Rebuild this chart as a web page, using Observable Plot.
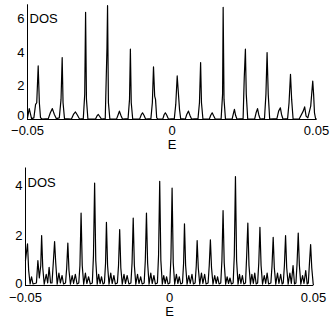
<!DOCTYPE html>
<html><head><meta charset="utf-8">
<script src="https://cdn.jsdelivr.net/npm/d3@7"></script>
<script src="https://cdn.jsdelivr.net/npm/@observablehq/plot@0.6"></script>
<style>
body{margin:0;background:#fff;}
#c{position:relative;width:332px;height:322px;overflow:hidden;}
#c svg{display:block;}
</style></head><body><div id="c"></div>
<script>
const xDomain = [-0.05, 0.05];
const xTicks = [-0.05, 0, 0.05];
const xTickLabels = ["\u22120.05", "0", "0.05"];
const topYTicks = [0, 2, 4, 6];
const botYTicks = [0, 2, 4];
const xLabel = "E";
const yLabel = "DOS";

// top panel: [E, DOS]
const topPoints = [
[-0.0500,0.10],[-0.0494,0.65],[-0.0486,0.05],[-0.0478,0.10],[-0.0472,0.90],[-0.0468,1.00],[-0.0463,3.20],[-0.0459,1.00],[-0.0455,0.10],[-0.0448,0.02],
[-0.0428,0.05],[-0.0421,0.40],[-0.0414,0.65],[-0.0407,0.30],[-0.0400,0.05],
[-0.0390,0.10],[-0.0384,1.20],[-0.0380,3.70],[-0.0377,1.00],[-0.0372,0.05],
[-0.0348,0.03],[-0.0341,0.30],[-0.0334,0.45],[-0.0327,0.25],[-0.0320,0.03],
[-0.0307,0.05],[-0.0302,1.50],[-0.0299,6.40],[-0.0296,1.20],[-0.0291,0.03],
[-0.0265,0.02],[-0.0260,0.20],[-0.0255,0.30],[-0.0250,0.18],[-0.0244,0.02],
[-0.0231,0.05],[-0.0225,4.30],[-0.0223,6.80],[-0.0220,1.00],[-0.0215,0.03],
[-0.0192,0.02],[-0.0186,0.30],[-0.0182,0.50],[-0.0177,0.25],[-0.0171,0.02],
[-0.0152,0.05],[-0.0147,1.20],[-0.0144,4.20],[-0.0141,1.00],[-0.0136,0.03],
[-0.0112,0.02],[-0.0106,0.30],[-0.0102,0.40],[-0.0097,0.25],[-0.0091,0.02],
[-0.0073,0.05],[-0.0068,1.00],[-0.0064,3.15],[-0.0060,1.40],[-0.0057,1.20],[-0.0053,0.10],[-0.0048,0.02],
[-0.0032,0.02],[-0.0027,0.30],[-0.0023,0.40],[-0.0018,0.25],[-0.0012,0.02],
[0.0008,0.05],[0.0013,0.90],[0.0018,2.60],[0.0022,1.60],[0.0026,0.60],[0.0030,0.05],
[0.0046,0.02],[0.0051,0.30],[0.0057,0.50],[0.0062,0.25],[0.0068,0.02],
[0.0090,0.05],[0.0095,1.00],[0.0099,3.40],[0.0102,1.00],[0.0107,0.03],
[0.0129,0.02],[0.0134,0.25],[0.0139,0.40],[0.0144,0.22],[0.0150,0.02],
[0.0170,0.04],[0.0175,1.50],[0.0177,6.70],[0.0180,1.20],[0.0185,0.03],
[0.0208,0.02],[0.0213,0.40],[0.0216,0.60],[0.0220,0.25],[0.0225,0.02],
[0.0246,0.05],[0.0250,2.50],[0.0254,4.20],[0.0257,1.50],[0.0262,0.03],
[0.0286,0.03],[0.0291,0.40],[0.0296,0.65],[0.0300,0.30],[0.0305,0.03],
[0.0320,0.05],[0.0325,1.50],[0.0329,4.00],[0.0333,1.50],[0.0338,0.03],
[0.0363,0.05],[0.0369,0.50],[0.0375,0.70],[0.0379,0.30],[0.0384,0.03],
[0.0400,0.05],[0.0405,1.00],[0.0410,2.70],[0.0414,1.20],[0.0419,0.03],
[0.0440,0.03],[0.0454,0.50],[0.0459,0.75],[0.0464,0.20],[0.0470,0.10],[0.0480,0.80],[0.0487,2.30],[0.0490,1.50],[0.0493,0.40],[0.0497,0.03],[0.0500,0.02]
];

// bottom panel: [E, DOS]
const botPoints = [
[-0.0500,1.00],[-0.0497,1.30],[-0.0493,1.67],[-0.0489,0.60],[-0.0484,0.06],
[-0.0479,0.35],[-0.0474,0.06],[-0.0462,0.10],[-0.0457,1.00],[-0.0452,0.30],[-0.0447,0.80],[-0.0444,2.00],[-0.0440,0.70],[-0.0435,0.05],
[-0.0428,0.45],[-0.0423,0.10],[-0.0418,0.73],[-0.0413,0.10],
[-0.0408,0.10],[-0.0403,1.00],[-0.0399,1.76],[-0.0395,0.90],[-0.0390,0.05],
[-0.0384,0.50],[-0.0379,0.10],[-0.0373,0.40],[-0.0368,0.06],
[-0.0361,0.10],[-0.0357,0.70],[-0.0353,1.70],[-0.0349,0.60],[-0.0344,0.05],
[-0.0338,0.40],[-0.0333,0.08],[-0.0327,0.45],[-0.0321,0.06],
[-0.0315,0.10],[-0.0311,0.80],[-0.0307,2.90],[-0.0303,0.80],[-0.0298,0.05],
[-0.0292,0.50],[-0.0287,0.08],[-0.0281,0.35],[-0.0275,0.06],
[-0.0268,0.10],[-0.0264,1.20],[-0.0260,4.10],[-0.0256,1.00],[-0.0251,0.05],
[-0.0246,0.45],[-0.0241,0.08],[-0.0236,0.35],[-0.0231,0.06],
[-0.0226,0.10],[-0.0222,0.90],[-0.0219,2.53],[-0.0215,0.80],[-0.0210,0.05],
[-0.0204,0.50],[-0.0199,0.08],[-0.0193,0.40],[-0.0188,0.06],
[-0.0181,0.10],[-0.0177,0.80],[-0.0173,2.24],[-0.0169,0.70],[-0.0164,0.05],
[-0.0158,0.45],[-0.0153,0.08],[-0.0147,0.40],[-0.0141,0.06],
[-0.0134,0.10],[-0.0130,0.90],[-0.0126,2.70],[-0.0122,0.80],[-0.0117,0.05],
[-0.0111,0.45],[-0.0106,0.08],[-0.0100,0.35],[-0.0095,0.06],
[-0.0088,0.10],[-0.0084,1.00],[-0.0080,2.90],[-0.0076,0.90],[-0.0071,0.05],
[-0.0065,0.50],[-0.0060,0.08],[-0.0054,0.40],[-0.0049,0.06],
[-0.0042,0.10],[-0.0038,1.20],[-0.0034,4.17],[-0.0030,1.00],[-0.0025,0.05],
[-0.0020,0.40],[-0.0015,0.08],[-0.0010,0.35],[-0.0005,0.06],
[0.0001,0.10],[0.0005,1.10],[0.0009,3.90],[0.0013,0.90],[0.0018,0.05],
[0.0024,0.45],[0.0029,0.08],[0.0034,0.35],[0.0039,0.06],
[0.0045,0.10],[0.0049,0.90],[0.0052,2.47],[0.0056,0.80],[0.0061,0.05],
[0.0067,0.40],[0.0072,0.08],[0.0078,0.45],[0.0083,0.06],
[0.0089,0.10],[0.0093,0.80],[0.0096,1.80],[0.0100,0.70],[0.0105,0.05],
[0.0111,0.50],[0.0116,0.08],[0.0122,0.45],[0.0127,0.06],
[0.0134,0.10],[0.0138,0.80],[0.0142,1.83],[0.0146,0.70],[0.0151,0.05],
[0.0157,0.40],[0.0162,0.08],[0.0167,0.35],[0.0172,0.06],
[0.0178,0.10],[0.0182,1.00],[0.0186,3.00],[0.0190,0.90],[0.0195,0.05],
[0.0200,0.35],[0.0205,0.08],[0.0210,0.30],[0.0215,0.06],
[0.0221,0.10],[0.0225,1.20],[0.0229,4.36],[0.0233,1.00],[0.0238,0.05],
[0.0243,0.45],[0.0248,0.08],[0.0253,0.40],[0.0258,0.06],
[0.0264,0.10],[0.0268,1.20],[0.0272,2.50],[0.0276,0.80],[0.0281,0.05],
[0.0286,0.45],[0.0291,0.08],[0.0296,0.50],[0.0301,0.06],
[0.0306,0.10],[0.0310,0.90],[0.0314,2.33],[0.0318,0.80],[0.0323,0.05],
[0.0329,0.40],[0.0334,0.08],[0.0339,0.50],[0.0344,0.06],
[0.0352,0.10],[0.0356,0.80],[0.0360,1.93],[0.0364,0.70],[0.0369,0.05],
[0.0375,0.50],[0.0380,0.08],[0.0386,0.45],[0.0391,0.06],
[0.0395,0.10],[0.0399,0.80],[0.0403,2.00],[0.0407,0.70],[0.0412,0.05],
[0.0418,0.50],[0.0423,0.08],[0.0429,0.80],[0.0434,0.06],
[0.0439,0.10],[0.0443,0.90],[0.0447,2.10],[0.0451,0.80],[0.0456,0.05],
[0.0462,0.40],[0.0467,0.08],[0.0473,0.60],[0.0478,0.06],
[0.0482,0.10],[0.0486,0.90],[0.0490,1.64],[0.0494,0.70],[0.0499,0.05],[0.0500,0.03]
];

function panel(points, yTicks, yMax, o) {
  const zero = yTicks.filter(t => t === 0);
  const rest = yTicks.filter(t => t !== 0);
  return Plot.plot({
    width: 332, height: o.height,
    marginLeft: o.ml, marginRight: o.mr, marginTop: o.mt, marginBottom: o.mb,
    style: {fontFamily: "'Liberation Sans', Arial, sans-serif", fontSize: "13px", color: "#000", background: "#fff", overflow: "visible"},
    x: {domain: xDomain},
    y: {domain: [0, yMax]},
    marks: [
      Plot.ruleX([xDomain[0]], {stroke: "#000", strokeWidth: 1}),
      Plot.ruleY([0], {stroke: "#000", strokeWidth: 1}),
      Plot.line(points, {x: d => d[0], y: d => d[1], stroke: "#000", strokeWidth: 1.2}),
      Plot.axisX(xTicks, {tickSize: 0, tickPadding: o.xpad, tickFormat: d => xTickLabels[xTicks.indexOf(d)], label: null}),
      Plot.axisY(rest, {tickSize: 0, tickPadding: 3, label: null}),
      Plot.axisY(zero, {tickSize: 0, tickPadding: 3, label: null, dy: o.zdy}),
      Plot.text([xLabel], {text: d => d, frameAnchor: "bottom", dy: o.edy}),
      Plot.text([yLabel], {text: d => d, frameAnchor: "top-left", textAnchor: "start", dx: 2, dy: o.ddy})
    ]
  });
}

const c = document.getElementById("c");
c.appendChild(panel(topPoints, topYTicks, 6.85, {height: 158, ml: 27, mr: 16, mt: 4.3, mb: 39, xpad: 6, zdy: -4, edy: 29, ddy: 8.7}));
c.appendChild(panel(botPoints, botYTicks, 4.7, {height: 164, ml: 25, mr: 19, mt: 9.5, mb: 37, xpad: 7, zdy: -2, edy: 30.5, ddy: 9.5}));
</script></body></html>
